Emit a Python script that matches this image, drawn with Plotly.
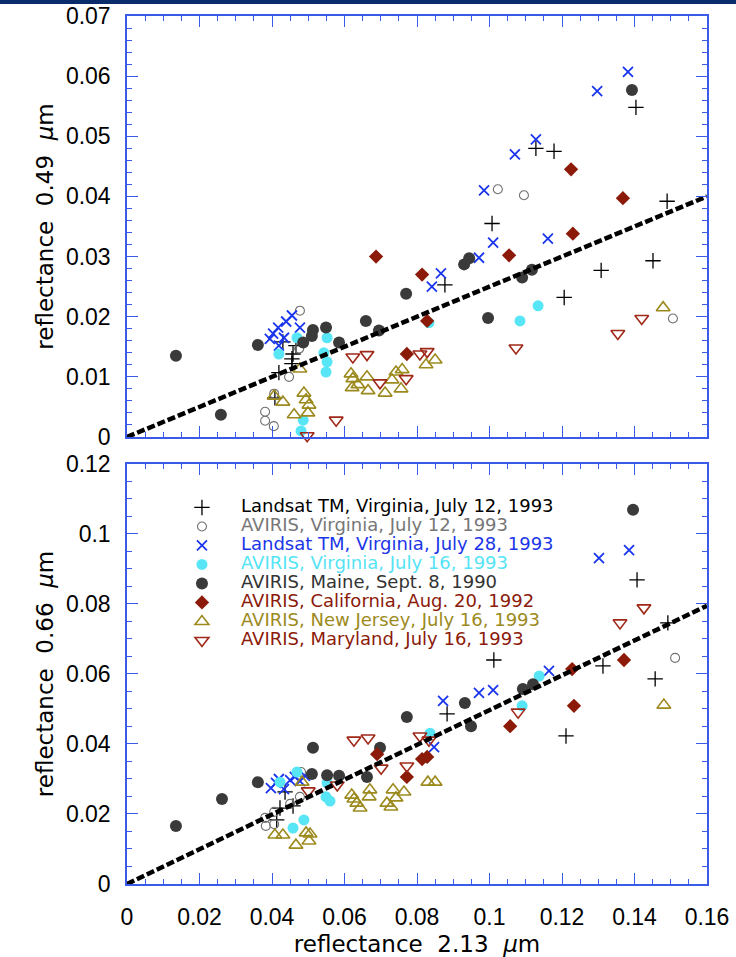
import plotly.graph_objects as go

# ---------------- data ----------------
fit_x = [0.0, 0.16]
fit_top = [0.0, 0.040]
fit_bot = [0.0, 0.0795]

names = [
    "Landsat TM, Virginia, July 12, 1993",
    "AVIRIS, Virginia, July 12, 1993",
    "Landsat TM, Virginia, July 28, 1993",
    "AVIRIS, Virginia, July 16, 1993",
    "AVIRIS, Maine, Sept. 8, 1990",
    "AVIRIS, California, Aug. 20, 1992",
    "AVIRIS, New Jersey, July 16, 1993",
    "AVIRIS, Maryland, July 16, 1993",
]

# 1 Landsat TM Virginia July 12
lt12_x_top = [0.0408, 0.0419, 0.0430, 0.0455, 0.0455, 0.0458, 0.0466, 0.0877, 0.1007, 0.1128, 0.1178, 0.1206, 0.1308, 0.1404, 0.1451, 0.1490]
lt12_y_top = [0.0065, 0.0107, 0.0158, 0.0122, 0.0130, 0.0138, 0.0152, 0.0253, 0.0355, 0.0480, 0.0475, 0.0232, 0.0277, 0.0548, 0.0293, 0.0392]
lt12_x_bot = [0.0413, 0.0422, 0.0436, 0.0458, 0.0883, 0.1012, 0.1211, 0.1313, 0.1407, 0.1457, 0.1492]
lt12_y_bot = [0.0183, 0.0217, 0.0263, 0.0223, 0.0486, 0.0640, 0.0423, 0.0623, 0.0869, 0.0586, 0.0746]

# 2 AVIRIS Virginia July 12
av12_x_top = [0.0381, 0.0381, 0.0405, 0.0406, 0.0447, 0.0475, 0.0477, 0.1023, 0.1095, 0.1506]
av12_y_top = [0.0042, 0.0027, 0.0018, 0.0072, 0.0100, 0.0147, 0.0210, 0.0412, 0.0402, 0.0197]
av12_x_bot = [0.0381, 0.0383, 0.0406, 0.0406, 0.0450, 0.0477, 0.0480, 0.1512]
av12_y_bot = [0.0189, 0.0166, 0.0171, 0.0206, 0.0229, 0.0249, 0.0320, 0.0646]

# 3 Landsat TM Virginia July 28
lt28_x_top = [0.0394, 0.0403, 0.0417, 0.0419, 0.0433, 0.0439, 0.0455, 0.0477, 0.0841, 0.0866, 0.0971, 0.0985, 0.1010, 0.1070, 0.1128, 0.1161, 0.1297, 0.1382]
lt28_y_top = [0.0163, 0.0172, 0.0182, 0.0152, 0.0165, 0.0192, 0.0202, 0.0182, 0.0250, 0.0272, 0.0298, 0.0410, 0.0323, 0.0470, 0.0495, 0.0330, 0.0575, 0.0607]
lt28_x_bot = [0.0397, 0.0411, 0.0419, 0.0433, 0.0450, 0.0463, 0.0477, 0.0491, 0.0847, 0.0872, 0.0971, 0.1010, 0.1164, 0.1302, 0.1385]
lt28_y_bot = [0.0274, 0.0289, 0.0300, 0.0271, 0.0297, 0.0306, 0.0294, 0.0309, 0.0391, 0.0523, 0.0546, 0.0554, 0.0609, 0.0931, 0.0954]

# 4 AVIRIS Virginia July 16
av16_x_top = [0.0419, 0.0469, 0.0480, 0.0486, 0.0543, 0.0549, 0.0552, 0.0552, 0.0833, 0.1084, 0.1134]
av16_y_top = [0.0138, 0.0165, 0.0010, 0.0028, 0.0140, 0.0108, 0.0125, 0.0165, 0.0190, 0.0193, 0.0218]
av16_x_bot = [0.0422, 0.0458, 0.0469, 0.0488, 0.0549, 0.0552, 0.0560, 0.0836, 0.1090, 0.1137]
av16_y_bot = [0.0291, 0.0160, 0.0320, 0.0183, 0.0249, 0.0289, 0.0237, 0.0431, 0.0509, 0.0594]

# 5 AVIRIS Maine
me_x_top = [0.0135, 0.0259, 0.0361, 0.0486, 0.0510, 0.0513, 0.0549, 0.0585, 0.0659, 0.0695, 0.0770, 0.0930, 0.0944, 0.0996, 0.1090, 0.1117, 0.1393]
me_y_top = [0.0135, 0.0037, 0.0153, 0.0157, 0.0168, 0.0178, 0.0182, 0.0157, 0.0193, 0.0177, 0.0238, 0.0287, 0.0297, 0.0198, 0.0265, 0.0278, 0.0577]
me_x_bot = [0.0135, 0.0262, 0.0361, 0.0510, 0.0513, 0.0552, 0.0585, 0.0662, 0.0698, 0.0772, 0.0932, 0.0949, 0.1092, 0.1120, 0.1396]
me_y_bot = [0.0166, 0.0243, 0.0291, 0.0314, 0.0389, 0.0311, 0.0309, 0.0306, 0.0389, 0.0477, 0.0517, 0.0451, 0.0557, 0.0571, 0.1069]

# 6 AVIRIS California
ca_x_top = [0.0687, 0.0772, 0.0814, 0.0828, 0.1054, 0.1225, 0.1230, 0.1368]
ca_y_top = [0.0300, 0.0138, 0.0270, 0.0193, 0.0302, 0.0445, 0.0338, 0.0397]
ca_x_bot = [0.0690, 0.0772, 0.0814, 0.0828, 0.1057, 0.1228, 0.1233, 0.1371]
ca_y_bot = [0.0371, 0.0306, 0.0357, 0.0363, 0.0451, 0.0614, 0.0509, 0.0640]

# 7 AVIRIS New Jersey
nj_x_top = [0.0406, 0.0430, 0.0461, 0.0477, 0.0488, 0.0494, 0.0499, 0.0502, 0.0618, 0.0621, 0.0623, 0.0637, 0.0662, 0.0665, 0.0712, 0.0731, 0.0742, 0.0756, 0.0759, 0.0825, 0.0850, 0.1479]
nj_y_top = [0.0068, 0.0058, 0.0037, 0.0113, 0.0073, 0.0062, 0.0040, 0.0053, 0.0105, 0.0082, 0.0097, 0.0087, 0.0100, 0.0077, 0.0073, 0.0095, 0.0108, 0.0080, 0.0112, 0.0120, 0.0128, 0.0215]
nj_x_bot = [0.0408, 0.0430, 0.0466, 0.0483, 0.0494, 0.0502, 0.0505, 0.0620, 0.0626, 0.0634, 0.0643, 0.0668, 0.0670, 0.0717, 0.0728, 0.0734, 0.0742, 0.0764, 0.0830, 0.0850, 0.1481]
nj_y_bot = [0.0140, 0.0140, 0.0111, 0.0291, 0.0146, 0.0123, 0.0143, 0.0254, 0.0243, 0.0231, 0.0217, 0.0249, 0.0269, 0.0231, 0.0220, 0.0269, 0.0246, 0.0263, 0.0291, 0.0291, 0.0511]

# 8 AVIRIS Maryland
md_x_top = [0.0497, 0.0577, 0.0623, 0.0662, 0.0698, 0.0770, 0.0808, 0.0828, 0.1073, 0.1354, 0.1420]
md_y_top = [0.0002, 0.0028, 0.0133, 0.0137, 0.0090, 0.0097, 0.0138, 0.0142, 0.0148, 0.0172, 0.0197]
md_x_bot = [0.0500, 0.0580, 0.0626, 0.0665, 0.0701, 0.0772, 0.0808, 0.0833, 0.1079, 0.1360, 0.1426]
md_y_bot = [0.0266, 0.0283, 0.0411, 0.0417, 0.0331, 0.0337, 0.0423, 0.0411, 0.0491, 0.0746, 0.0789]

# ---------------- styles ----------------
series = [
    (lt12_x_top, lt12_y_top, lt12_x_bot, lt12_y_bot, dict(symbol="cross-thin-open", size=11, color="#000000", line=dict(color="#000000", width=1.3)), "#000000"),
    (av12_x_top, av12_y_top, av12_x_bot, av12_y_bot, dict(symbol="circle-open", size=9, color="#707070", line=dict(color="#707070", width=1.1)), "#777777"),
    (lt28_x_top, lt28_y_top, lt28_x_bot, lt28_y_bot, dict(symbol="x-thin-open", size=10, color="#1a35ee", line=dict(color="#1a35ee", width=1.8)), "#1a35e8"),
    (av16_x_top, av16_y_top, av16_x_bot, av16_y_bot, dict(symbol="circle", size=11, color="#58e6f7", line=dict(width=0)), "#55e4f5"),
    (me_x_top, me_y_top, me_x_bot, me_y_bot, dict(symbol="circle", size=12, color="#3a3a3a", line=dict(width=0)), "#333333"),
    (ca_x_top, ca_y_top, ca_x_bot, ca_y_bot, dict(symbol="diamond", size=11, color="#8b1a08", line=dict(width=0)), "#8b1a0a"),
    (nj_x_top, nj_y_top, nj_x_bot, nj_y_bot, dict(symbol="triangle-up-open", size=12, color="#9c8a1e", line=dict(color="#9c8a1e", width=1.6)), "#9c8a20"),
    (md_x_top, md_y_top, md_x_bot, md_y_bot, dict(symbol="triangle-down-open", size=12, color="#a02818", line=dict(color="#a02818", width=1.6)), "#8b1a0a"),
]

fig = go.Figure()

for i, (xt, yt, xb, yb, mk, tcol) in enumerate(series):
    label = f'<span style="font-size:18px;color:{tcol}">{names[i]}</span>'
    fig.add_trace(go.Scatter(x=xt, y=yt, mode="markers", marker=mk, xaxis="x2", yaxis="y2",
                             legendgroup=str(i), showlegend=False, name=names[i], cliponaxis=False))
    fig.add_trace(go.Scatter(x=xb, y=yb, mode="markers", marker=mk, xaxis="x", yaxis="y",
                             legendgroup=str(i), showlegend=True, name=label, cliponaxis=False))

line_style = dict(color="#000000", width=4.5, dash="8px,3px")
fig.add_trace(go.Scatter(x=fit_x, y=fit_top, mode="lines", line=line_style, xaxis="x2", yaxis="y2", showlegend=False, hoverinfo="skip"))
fig.add_trace(go.Scatter(x=fit_x, y=fit_bot, mode="lines", line=line_style, xaxis="x", yaxis="y", showlegend=False, hoverinfo="skip"))

frame_col = "#3a5ae8"
tick_font = dict(family="Liberation Sans, Arial, sans-serif", size=23, color="#000000")
title_font = dict(family="DejaVu Sans, Verdana, sans-serif", size=23, color="#000000")

common = dict(showline=True, linecolor=frame_col, linewidth=1.5, mirror="allticks",
              ticks="inside", ticklen=11, tickwidth=1.3, tickcolor=frame_col,
              showgrid=False, zeroline=False, tickfont=tick_font, automargin=False)

fig.update_layout(
    width=736, height=957,
    margin=dict(l=127, r=29, t=16, b=73),
    paper_bgcolor="white", plot_bgcolor="white",
    xaxis=dict(domain=[0, 1], anchor="y", range=[0, 0.16], dtick=0.02, tick0=0,
               minor=dict(ticks="inside", ticklen=5, dtick=0.005, tickcolor=frame_col, tickwidth=1.2, showgrid=False),
               ticklabelstandoff=12,
               title=dict(text="reflectance  2.13  <i>μ</i>m", font=title_font, standoff=8), **common),
    yaxis=dict(domain=[0, 0.4839], anchor="x", range=[0, 0.12], dtick=0.02, tick0=0,
               minor=dict(ticks="inside", ticklen=5, dtick=0.005, tickcolor=frame_col, tickwidth=1.2, showgrid=False),
               ticklabelstandoff=10,
               title=dict(text="reflectance  0.66  <i>μ</i>m", font=title_font, standoff=6), **common),
    xaxis2=dict(domain=[0, 1], anchor="y2", range=[0, 0.16], dtick=0.02, tick0=0, showticklabels=False,
                minor=dict(ticks="inside", ticklen=5, dtick=0.005, tickcolor=frame_col, tickwidth=1.2, showgrid=False),
                **common),
    yaxis2=dict(domain=[0.515, 1], anchor="x2", range=[0, 0.07], dtick=0.01, tick0=0,
                minor=dict(ticks="inside", ticklen=5, dtick=0.002, tickcolor=frame_col, tickwidth=1.2, showgrid=False),
                ticklabelstandoff=10,
                title=dict(text="reflectance  0.49  <i>μ</i>m", font=title_font, standoff=6), **common),
    legend=dict(x=0.062, y=0.4505, xanchor="left", yanchor="top", bgcolor="rgba(0,0,0,0)",
                font=dict(family="DejaVu Sans, Verdana, sans-serif", size=12.3), itemwidth=68,
                tracegroupgap=0),
    shapes=[dict(type="rect", xref="paper", yref="paper", x0=-0.25, x1=1.1, y0=1.0138, y1=1.03,
                 fillcolor="#0b2c6b", line=dict(width=0), layer="above")],
)

fig.write_html("out.html")
